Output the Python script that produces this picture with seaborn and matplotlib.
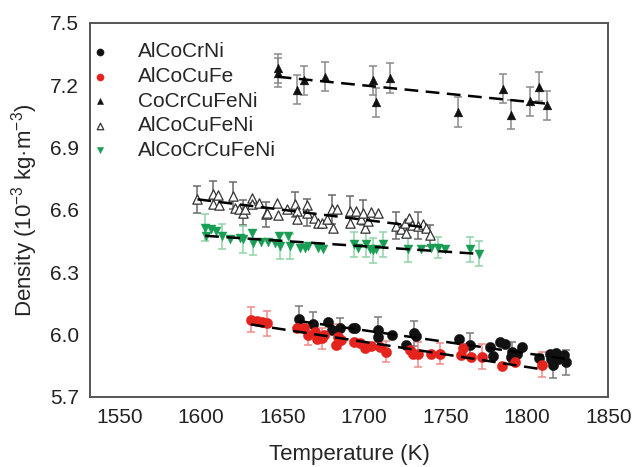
import numpy as np
import pandas as pd
import matplotlib
matplotlib.use("Agg")
import matplotlib.pyplot as plt
import seaborn as sns

# --- data (T in K, density in 10^-3 kg m^-3) ---
alcocrni_T = [1660.2, 1669.0, 1678.1, 1680.6, 1685.3, 1693.4, 1694.9, 1708.7, 1708.7, 1717.3,
              1726.1, 1730.8, 1732.2, 1758.7, 1764.9, 1777.7, 1779.1, 1783.8, 1786.7, 1790.7,
              1790.4, 1794.1, 1796.9, 1807.7, 1814.4, 1817.9, 1814.9, 1815.9, 1822.6, 1824.1, 1819.1]
alcocrni_d = [6.076, 6.050, 6.063, 6.023, 6.030, 6.034, 6.030, 6.023, 5.990, 5.998,
              5.950, 6.006, 5.994, 5.979, 5.950, 5.942, 5.898, 5.963, 5.953, 5.914,
              5.893, 5.909, 5.942, 5.889, 5.909, 5.913, 5.882, 5.853, 5.902, 5.866, 5.882]
alcocrni_err = [0.06, 0.06, 0, 0, 0.05, 0, 0, 0.06, 0, 0,
                0, 0.06, 0, 0, 0.06, 0, 0, 0, 0, 0.05,
                0, 0, 0, 0, 0, 0, 0, 0.06, 0, 0.06, 0]

alcocufe_T = [1630.8, 1634.3, 1637.4, 1640.4, 1658.8, 1663.5, 1665.9, 1670.0, 1671.6, 1674.5,
              1675.7, 1682.7, 1684.3, 1685.9, 1694.1, 1697.5, 1700.6, 1704.7, 1709.8, 1713.9,
              1728.1, 1730.2, 1733.2, 1741.4, 1746.5, 1759.8, 1760.8, 1765.9, 1772.4, 1784.6,
              1793.0, 1809.1]
alcocufe_d = [6.071, 6.066, 6.063, 6.055, 6.034, 6.030, 5.998, 6.014, 5.979, 5.982,
              5.998, 5.950, 5.990, 5.974, 5.963, 5.958, 5.934, 5.947, 5.942, 5.918,
              5.926, 5.909, 5.905, 5.909, 5.909, 5.902, 5.934, 5.893, 5.893, 5.850,
              5.869, 5.856]
alcocufe_err = [0.06, 0, 0, 0.06, 0, 0, 0.05, 0, 0, 0.05,
                0, 0, 0.06, 0, 0, 0, 0, 0, 0, 0.05,
                0, 0, 0.06, 0, 0.05, 0, 0, 0, 0.06, 0,
                0, 0.06]

cocrcufeni_T = [1647.2, 1647.2, 1659.2, 1663.1, 1676.5, 1705.7, 1707.8, 1715.9, 1758.1, 1785.2,
                1790.4, 1802.2, 1807.7, 1812.2]
cocrcufeni_d = [7.281, 7.260, 7.179, 7.224, 7.240, 7.224, 7.119, 7.235, 7.071, 7.184,
                7.058, 7.123, 7.192, 7.103]
cocrcufeni_err = [0.07] * 14

alcocufeni_T = [1598.0, 1607.4, 1610.8, 1607.8, 1611.4, 1620.0, 1621.0, 1623.7, 1625.8, 1627.2,
                1631.3, 1631.3, 1635.9, 1640.0, 1640.8, 1646.6, 1647.5, 1653.0, 1657.8, 1658.8,
                1659.2, 1665.0, 1665.0, 1669.4, 1672.0, 1674.1, 1677.2, 1680.8, 1681.2, 1683.3,
                1691.4, 1691.4, 1695.5, 1698.2, 1699.6, 1700.6, 1702.6, 1704.7, 1708.7, 1719.6,
                1723.1, 1725.1, 1726.1, 1727.5, 1729.5, 1733.2, 1736.3, 1738.4, 1740.4]
alcocufeni_d = [6.652, 6.676, 6.671, 6.628, 6.623, 6.668, 6.611, 6.603, 6.587, 6.603,
                6.655, 6.628, 6.635, 6.579, 6.587, 6.632, 6.574, 6.603, 6.628, 6.595,
                6.555, 6.623, 6.587, 6.563, 6.538, 6.538, 6.555, 6.603, 6.514, 6.603,
                6.595, 6.538, 6.595, 6.555, 6.587, 6.514, 6.547, 6.590, 6.587, 6.523,
                6.507, 6.538, 6.490, 6.563, 6.526, 6.523, 6.531, 6.514, 6.477]
alcocufeni_err = [0.065, 0.065, 0, 0, 0, 0.065, 0, 0, 0.06, 0,
                  0, 0, 0, 0.06, 0, 0, 0, 0, 0.06, 0,
                  0, 0, 0.065, 0, 0, 0, 0, 0.07, 0, 0,
                  0.07, 0, 0, 0, 0.06, 0, 0, 0, 0, 0.065,
                  0, 0, 0, 0, 0, 0.065, 0, 0, 0.05]

alcocrcufeni_T = [1602.7, 1606.2, 1609.4, 1603.3, 1612.9, 1618.0, 1624.1, 1626.1, 1631.3, 1631.9,
                  1636.8, 1641.4, 1645.5, 1648.2, 1648.6, 1653.7, 1654.7, 1660.8, 1663.9, 1665.9,
                  1672.0, 1675.1, 1694.1, 1696.5, 1701.6, 1703.7, 1705.7, 1707.8, 1711.8, 1727.1,
                  1735.3, 1741.4, 1745.5, 1749.6, 1764.9, 1770.4]
alcocrcufeni_d = [6.514, 6.509, 6.498, 6.474, 6.474, 6.458, 6.466, 6.458, 6.490, 6.442,
                  6.445, 6.445, 6.442, 6.474, 6.426, 6.474, 6.426, 6.418, 6.418, 6.426,
                  6.418, 6.413, 6.434, 6.418, 6.434, 6.413, 6.406, 6.413, 6.434, 6.410,
                  6.410, 6.418, 6.418, 6.413, 6.410, 6.390]
alcocrcufeni_err = [0.065, 0, 0, 0, 0.06, 0, 0, 0.065, 0, 0.06,
                    0, 0, 0, 0, 0.06, 0, 0.06, 0, 0, 0,
                    0, 0, 0.06, 0, 0.06, 0, 0.06, 0, 0.06, 0.06,
                    0, 0, 0.05, 0, 0.06, 0.06]

x_ticks = [1550, 1600, 1650, 1700, 1750, 1800, 1850]
y_ticks = [5.7, 6.0, 6.3, 6.6, 6.9, 7.2, 7.5]

# --- style ---
sns.set_style("white")
plt.rcParams["font.family"] = ["Liberation Sans", "DejaVu Sans"]
plt.rcParams["mathtext.fontset"] = "custom"
plt.rcParams["mathtext.rm"] = "Liberation Sans"
plt.rcParams["mathtext.it"] = "Liberation Sans:italic"

fig = plt.figure(figsize=(6.33, 4.67), dpi=100)
ax = fig.add_axes([0.142, 0.150, 0.819, 0.801])

series = [
    # label, T, d, err, marker, face, edge, errcolor, size
    ("AlCoCrNi", alcocrni_T, alcocrni_d, alcocrni_err, "o", "#111111", "#111111", "#7a7a7a", 55),
    ("AlCoCuFe", alcocufe_T, alcocufe_d, alcocufe_err, "o", "#e3231c", "#e3231c", "#ef8a86", 55),
    ("CoCrCuFeNi", cocrcufeni_T, cocrcufeni_d, cocrcufeni_err, "^", "#111111", "#111111", "#8a8a8a", 40),
    ("AlCoCuFeNi", alcocufeni_T, alcocufeni_d, alcocufeni_err, "^", "none", "#333333", "#6a6a6a", 45),
    ("AlCoCrCuFeNi", alcocrcufeni_T, alcocrcufeni_d, alcocrcufeni_err, "v", "#1a9e55", "#1a9e55", "#8fd3a8", 42),
]

for label, T, d, err, mk, fc, ec, errc, s in series:
    df = pd.DataFrame({"T": T, "d": d, "err": err})
    sub = df[df["err"] > 0]
    ax.errorbar(sub["T"], sub["d"], yerr=sub["err"], fmt="none", ecolor=errc,
                elinewidth=1.1, capsize=3, capthick=1.1, zorder=1)
    sns.scatterplot(data=df, x="T", y="d", ax=ax, marker=mk, s=s, color=fc if fc != "none" else "white",
                    edgecolor=ec, linewidth=0.9 if fc == "none" else 0.3, label=label, zorder=2)
    sns.regplot(data=df, x="T", y="d", ax=ax, scatter=False, ci=None, truncate=True,
                line_kws=dict(color="black", lw=1.8, ls=(0, (5.5, 3)), zorder=3))

ax.set_xlim(1532, 1850)
ax.set_ylim(5.7, 7.5)
ax.set_xticks(x_ticks)
ax.set_yticks(y_ticks)
ax.set_yticklabels([f"{v:.1f}" for v in y_ticks])
ax.tick_params(direction="in", length=5, width=1, labelsize=15, colors="#222222", pad=8)
for sp in ax.spines.values():
    sp.set_color("#555555")
    sp.set_linewidth(1.4)

ax.set_xlabel("Temperature (K)", fontsize=16, labelpad=12)
ax.set_ylabel("Density (10$^{-3}$ kg·m$^{-3}$)", fontsize=16, labelpad=7)

ax.legend(loc="upper left", bbox_to_anchor=(-0.008, 0.970), frameon=False, fontsize=15,
          handlelength=0.6, handletextpad=1.5, labelspacing=0.27, borderaxespad=0,
          markerscale=0.7)

fig.savefig("out.png", dpi=100)
